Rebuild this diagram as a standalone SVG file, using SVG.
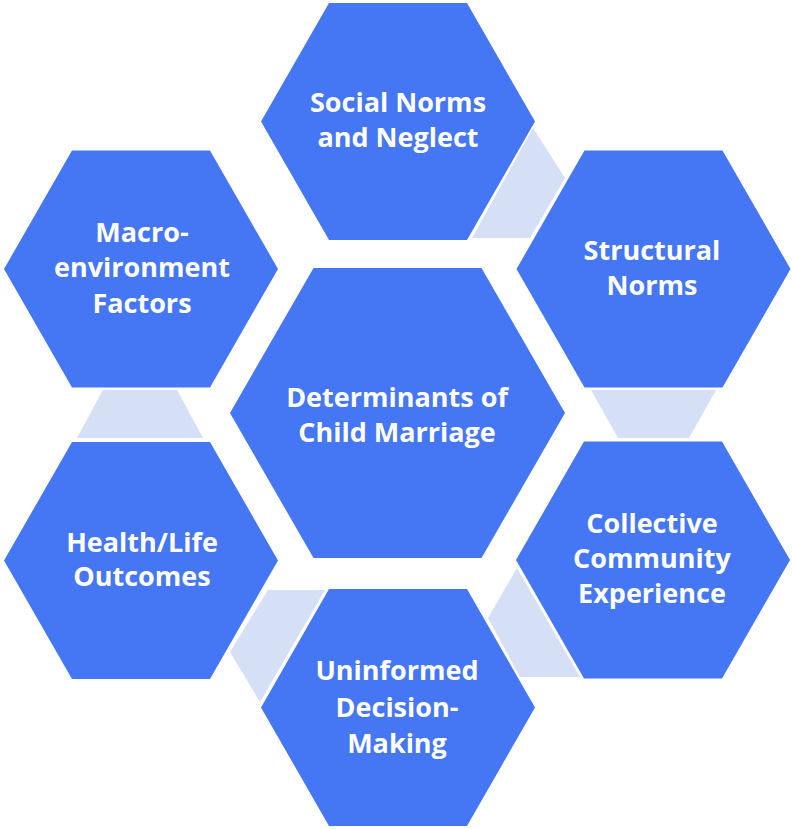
<svg xmlns="http://www.w3.org/2000/svg" xmlns:xlink="http://www.w3.org/1999/xlink" width="792" height="829" viewBox="0 0 792 829">
  <style>
    .hex { fill: #4576F4; }
    .link { fill: #D5DFF6; }
    .lbl { font-family: "Open Sans", Lato, "Liberation Sans", sans-serif; font-weight: bold; font-size: 27px; fill: #FFFFFF; text-anchor: middle; }
  </style>
  <defs>
    <path id="hexO" d="M-137,0 L-69,-118.5 L69,-118.5 L137,0 L69,118.5 L-69,118.5 Z"/>
    <path id="hexC" d="M-167.5,0 L-84,-145 L84,-145 L167.5,0 L84,145 L-84,145 Z"/>
  </defs>
  <rect width="792" height="829" fill="#FFFFFF"/>
  <g id="connectors">
    <polygon class="link" points="533,128 565,178 530,238 472,238"/>
    <polygon class="link" points="591,390 716,390 689,438 618,438"/>
    <polygon class="link" points="517,568 580,677 520,677 488,618"/>
    <polygon class="link" points="268,590 325,590 260,702 230,652"/>
    <polygon class="link" points="103,390 177,390 203,438 77,438"/>
  </g>
  <g id="center">
    <use xlink:href="#hexC" class="hex" transform="translate(397.5,413)"/>
    <text class="lbl" x="397" y="407">Determinants of</text>
    <text class="lbl" x="397" y="442">Child Marriage</text>
  </g>
  <g id="social">
    <use xlink:href="#hexO" class="hex" transform="translate(398,121.5)"/>
    <text class="lbl" x="398" y="112">Social Norms</text>
    <text class="lbl" x="398" y="147">and Neglect</text>
  </g>
  <g id="structural">
    <use xlink:href="#hexO" class="hex" transform="translate(653.5,269)"/>
    <text class="lbl" x="652" y="260">Structural</text>
    <text class="lbl" x="652" y="295">Norms</text>
  </g>
  <g id="collective">
    <use xlink:href="#hexO" class="hex" transform="translate(653,560)"/>
    <text class="lbl" x="652" y="533">Collective</text>
    <text class="lbl" x="652" y="568">Community</text>
    <text class="lbl" x="652" y="603">Experience</text>
  </g>
  <g id="uninformed">
    <use xlink:href="#hexO" class="hex" transform="translate(398,707.5)"/>
    <text class="lbl" x="397" y="680">Uninformed</text>
    <text class="lbl" x="397" y="717">Decision-</text>
    <text class="lbl" x="397" y="753">Making</text>
  </g>
  <g id="health">
    <use xlink:href="#hexO" class="hex" transform="translate(141,560.5)"/>
    <text class="lbl" x="142" y="552">Health/Life</text>
    <text class="lbl" x="142" y="586">Outcomes</text>
  </g>
  <g id="macro">
    <use xlink:href="#hexO" class="hex" transform="translate(141,269)"/>
    <text class="lbl" x="142" y="242">Macro-</text>
    <text class="lbl" x="142" y="277">environment</text>
    <text class="lbl" x="142" y="313">Factors</text>
  </g>
</svg>
